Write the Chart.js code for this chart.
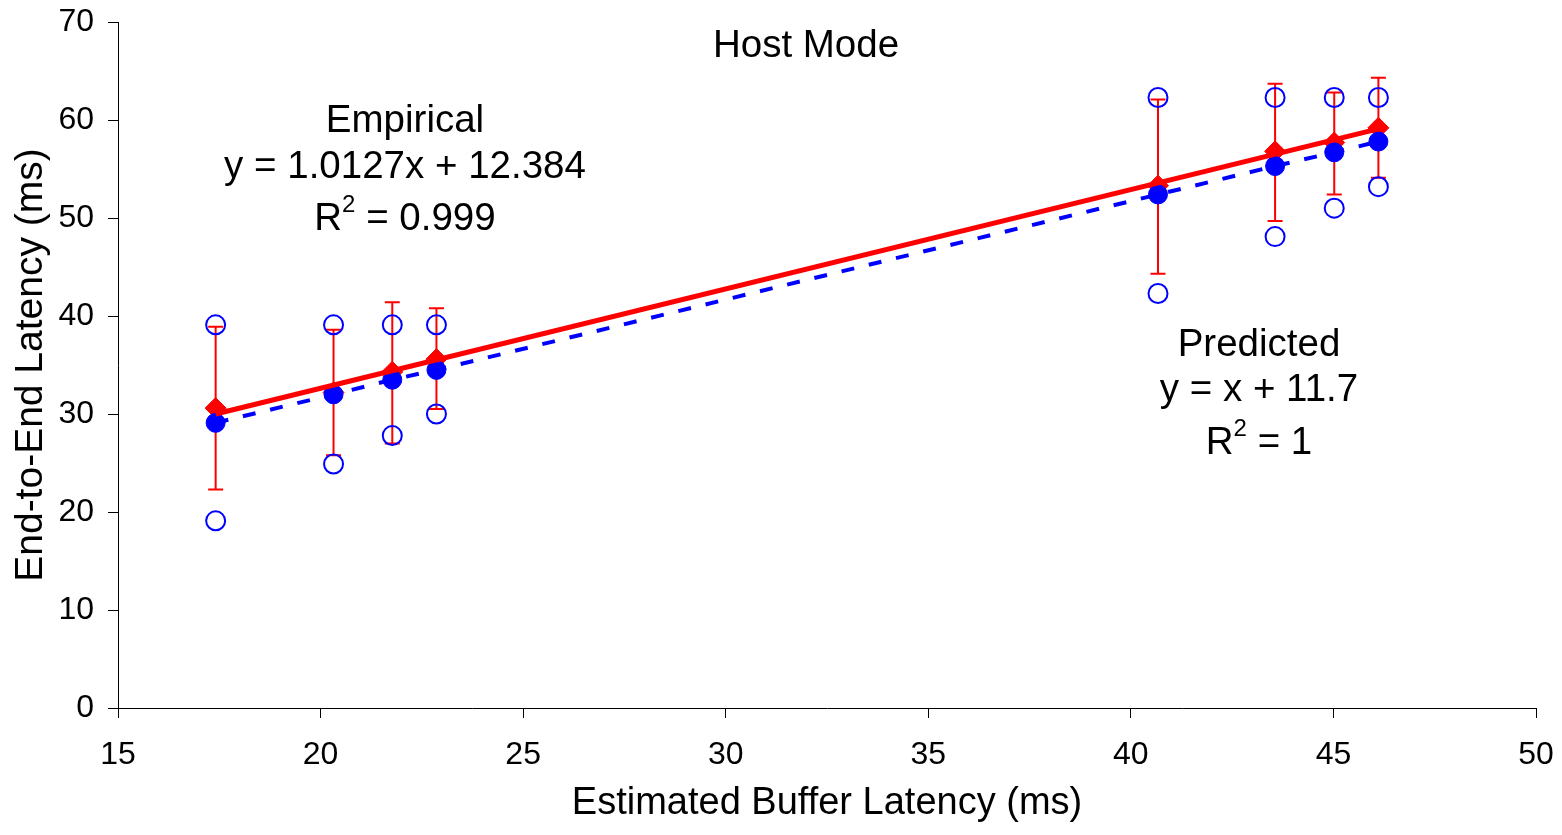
<!DOCTYPE html>
<html>
<head>
<meta charset="utf-8">
<title>Host Mode</title>
<script src="https://cdn.jsdelivr.net/npm/chart.js@4.4.1/dist/chart.umd.min.js"></script>
<style>
  html, body { margin: 0; padding: 0; background: #fff; }
  #wrap { position: relative; width: 1562px; height: 835px; }
</style>
</head>
<body>
<div id="wrap"><canvas id="chart"></canvas></div>
<script>
// Estimated buffer latency (ms) of each run
const bufferLatency = [17.41, 20.32, 21.77, 22.86, 40.67, 43.56, 45.02, 46.11];
// Predicted end-to-end latency (ms)
const predicted = [29.1, 32.0, 33.5, 34.5, 52.4, 55.3, 56.7, 57.8];
// Measured mean end-to-end latency and its error bar ends
const empiricalMean = [30.6, 32.2, 34.3, 35.6, 53.3, 56.8, 57.7, 59.2];
const errorHigh = [38.9, 38.6, 41.4, 40.8, 62.1, 63.7, 62.8, 64.3];
const errorLow = [22.3, 25.8, 27.0, 30.5, 44.3, 49.7, 52.4, 54.1];
// Observed max / min
const observedMax = [39.1, 39.1, 39.1, 39.1, 62.3, 62.3, 62.3, 62.3];
const observedMin = [19.1, 24.9, 27.8, 30.0, 42.3, 48.1, 51.0, 53.2];
// Empirical trendline ends
const fitX = [17.41, 46.11];
const fitY = [30.0, 59.1];

const xTicks = [15, 20, 25, 30, 35, 40, 45, 50];
const yTicks = [0, 10, 20, 30, 40, 50, 60, 70];

const FONT = '"Liberation Sans", Arial, sans-serif';
const RED = '#ff0000';
const BLUE = '#0000ff';

const pts = (xs, ys) => xs.map((v, i) => ({ x: v, y: ys[i] }));

// no extra room for the end tick labels, the plot area is fixed by layout padding
const noPad = s => { s.paddingLeft = 0; s.paddingRight = 0; s.paddingTop = 0; s.paddingBottom = 0; };

// error bars, drawn under the markers
const errorBars = {
    id: 'errorBars',
    beforeDatasetsDraw(chart) {
        const { ctx, scales: { x, y } } = chart;
        ctx.save();
        ctx.strokeStyle = RED;
        ctx.lineWidth = 2;
        bufferLatency.forEach((bx, i) => {
            const px = x.getPixelForValue(bx);
            const top = y.getPixelForValue(errorHigh[i]);
            const bot = y.getPixelForValue(errorLow[i]);
            ctx.beginPath();
            ctx.moveTo(px, top); ctx.lineTo(px, bot);
            ctx.moveTo(px - 7.5, top); ctx.lineTo(px + 7.5, top);
            ctx.moveTo(px - 7.5, bot); ctx.lineTo(px + 7.5, bot);
            ctx.stroke();
        });
        ctx.restore();
    }
};

// text boxes (title + trendline equations)
function drawLine(ctx, cx, cy, parts, size) {
    const supSize = Math.round(size * 0.62);
    const widths = parts.map(p => {
        ctx.font = `${p.sup ? supSize : size}px ${FONT}`;
        return ctx.measureText(p.text).width;
    });
    let xPos = cx - widths.reduce((a, b) => a + b, 0) / 2;
    parts.forEach((p, i) => {
        ctx.font = `${p.sup ? supSize : size}px ${FONT}`;
        ctx.fillText(p.text, xPos, p.sup ? cy - size * 0.36 : cy);
        xPos += widths[i];
    });
}

const labels = {
    id: 'labels',
    afterDraw(chart) {
        const ctx = chart.ctx;
        const size = 38.5;
        ctx.save();
        ctx.fillStyle = '#000';
        ctx.textAlign = 'left';
        ctx.textBaseline = 'middle';
        drawLine(ctx, 806, 46, [{ text: 'Host Mode' }], size);

        drawLine(ctx, 405, 121, [{ text: 'Empirical' }], size);
        drawLine(ctx, 405, 167, [{ text: 'y = 1.0127x + 12.384' }], size);
        drawLine(ctx, 405, 219, [{ text: 'R' }, { text: '2', sup: true }, { text: ' = 0.999' }], size);

        drawLine(ctx, 1259, 345, [{ text: 'Predicted' }], size);
        drawLine(ctx, 1259, 390, [{ text: 'y = x + 11.7' }], size);
        drawLine(ctx, 1259, 443, [{ text: 'R' }, { text: '2', sup: true }, { text: ' = 1' }], size);
        ctx.restore();
    }
};

new Chart(document.getElementById('chart'), {
    type: 'scatter',
    data: {
        datasets: [
            {
                label: 'Empirical fit',
                data: pts(fitX, fitY),
                showLine: true,
                borderColor: RED,
                borderWidth: 5,
                pointRadius: 0
            },
            {
                label: 'Predicted',
                data: pts(bufferLatency, predicted),
                pointStyle: 'circle',
                pointRadius: 9.5,
                backgroundColor: BLUE,
                borderColor: BLUE,
                borderWidth: 1
            },
            {
                label: 'Predicted fit',
                data: pts(bufferLatency, predicted),
                showLine: true,
                borderColor: BLUE,
                borderWidth: 4,
                borderDash: [13, 15],
                borderCapStyle: 'butt',
                pointRadius: 0
            },
            {
                label: 'Empirical',
                data: pts(bufferLatency, empiricalMean),
                pointStyle: 'rectRot',
                pointRadius: 10.5,
                backgroundColor: RED,
                borderColor: RED,
                borderWidth: 1
            },
            {
                label: 'Max',
                data: pts(bufferLatency, observedMax),
                pointRadius: 9.5,
                backgroundColor: 'rgba(0,0,0,0)',
                borderColor: BLUE,
                borderWidth: 2
            },
            {
                label: 'Min',
                data: pts(bufferLatency, observedMin),
                pointRadius: 9.5,
                backgroundColor: 'rgba(0,0,0,0)',
                borderColor: BLUE,
                borderWidth: 2
            }
        ]
    },
    options: {
        responsive: true,
        maintainAspectRatio: false,
        animation: false,
        layout: { padding: { top: 22, right: 26, bottom: 0, left: 0 } },
        plugins: {
            legend: { display: false },
            tooltip: { enabled: false }
        },
        scales: {
            x: {
                type: 'linear',
                min: 15,
                max: 50,
                afterBuildTicks: s => { s.ticks = xTicks.map(v => ({ value: v })); },
                afterFit: s => { s.height = 127; noPad(s); },
                grid: { drawOnChartArea: false, tickLength: 10, color: '#000' },
                border: { color: '#000', width: 1 },
                ticks: { font: { family: FONT, size: 32 }, color: '#000', padding: 18, maxRotation: 0 },
                title: {
                    display: true,
                    text: 'Estimated Buffer Latency (ms)',
                    font: { family: FONT, size: 38 },
                    color: '#000',
                    padding: { top: 0, bottom: 9 }
                }
            },
            y: {
                type: 'linear',
                min: 0,
                max: 70,
                afterBuildTicks: s => { s.ticks = yTicks.map(v => ({ value: v })); },
                afterFit: s => { s.width = 118; noPad(s); },
                grid: { drawOnChartArea: false, tickLength: 10, color: '#000' },
                border: { color: '#000', width: 1 },
                ticks: { font: { family: FONT, size: 32 }, color: '#000', padding: 14 },
                title: {
                    display: true,
                    text: 'End-to-End Latency (ms)',
                    font: { family: FONT, size: 39 },
                    color: '#000',
                    padding: { top: 8, bottom: 0 }
                }
            }
        }
    },
    plugins: [errorBars, labels]
});
</script>
</body>
</html>
